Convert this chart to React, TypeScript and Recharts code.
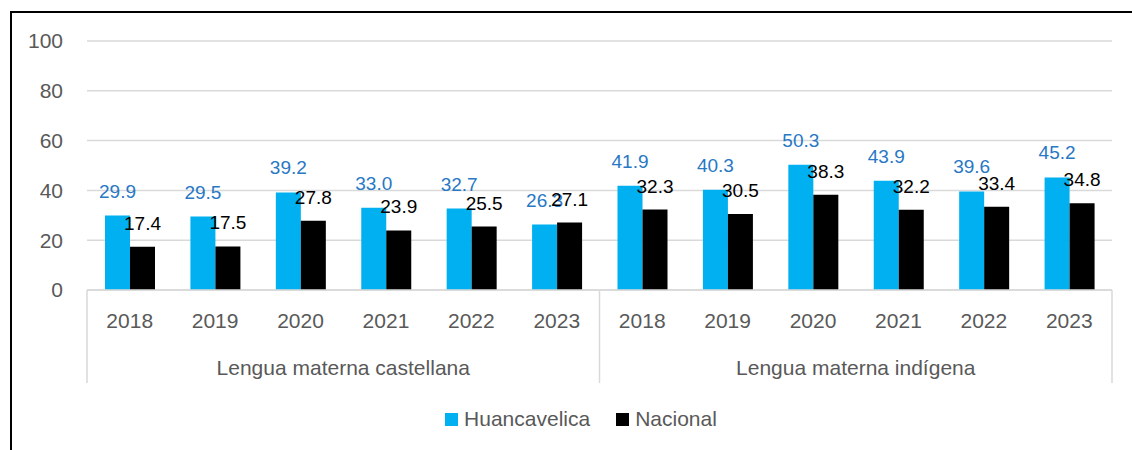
import React from 'react';
import { BarChart, Bar, XAxis, YAxis, CartesianGrid, Legend, LabelList } from 'recharts';

const years = ['2018', '2019', '2020', '2021', '2022', '2023'];
const groups = ['Lengua materna castellana', 'Lengua materna indígena'];
const huancavelica = [29.9, 29.5, 39.2, 33.0, 32.7, 26.3, 41.9, 40.3, 50.3, 43.9, 39.6, 45.2];
const nacional = [17.4, 17.5, 27.8, 23.9, 25.5, 27.1, 32.3, 30.5, 38.3, 32.2, 33.4, 34.8];
const yTicks = [0, 20, 40, 60, 80, 100];

const data = huancavelica.map((h, i) => ({
  idx: i,
  year: years[i % years.length],
  group: groups[Math.floor(i / years.length)],
  huancavelica: h,
  nacional: nacional[i],
}));

const W = 1132;
const H = 450;
const FONT = '"Liberation Sans", Arial, sans-serif';
const GREY = '#595959';
const GRID = '#d9d9d9';
const BLUE = '#00B0F0';
const LABEL_BLUE = '#2878C4';

const margin = { top: 41, right: 20, left: 0, bottom: 32 };
const Y_AXIS_W = 87;
const YEAR_AXIS_H = 48;
const GROUP_AXIS_H = 50;
const PLOT_W = W - margin.left - margin.right - Y_AXIS_W;
const HALF_GROUP = PLOT_W / groups.length / 2;

// second row of the x axis: group names plus the grey separators
const GroupTick = (props: any) => {
  const { x, y, payload, index } = props;
  const top = y - YEAR_AXIS_H;
  const bottom = y + 45;
  return (
    <g>
      {index === 0 && (
        <line x1={x - HALF_GROUP} x2={x - HALF_GROUP} y1={top} y2={bottom} stroke={GRID} strokeWidth={1.5} />
      )}
      <line x1={x + HALF_GROUP} x2={x + HALF_GROUP} y1={top} y2={bottom} stroke={GRID} strokeWidth={1.5} />
      <text x={x} y={y + 37} textAnchor="middle" fill={GREY} fontSize={21} fontFamily={FONT}>
        {payload.value}
      </text>
    </g>
  );
};

const LegendContent = () => {
  const items = [
    { name: 'Huancavelica', color: BLUE },
    { name: 'Nacional', color: '#000000' },
  ];
  return (
    <div style={{ width: W, height: 30, display: 'flex', justifyContent: 'center', alignItems: 'center', paddingLeft: 30, boxSizing: 'border-box' }}>
      {items.map((it, i) => (
        <div key={it.name} style={{ display: 'flex', alignItems: 'center', marginLeft: i > 0 ? 26 : 0 }}>
          <span style={{ width: 13, height: 13, background: it.color, display: 'inline-block', marginRight: 6 }} />
          <span style={{ fontSize: 21, color: GREY, fontFamily: FONT }}>{it.name}</span>
        </div>
      ))}
    </div>
  );
};

export default function App() {
  return (
    <div style={{ position: 'absolute', left: 0, top: 0, width: W, height: H, overflow: 'hidden', background: '#fff' }}>
      <div style={{ position: 'absolute', left: 10, top: 11, width: W + 100, height: H + 100, borderLeft: '2px solid #000', borderTop: '2px solid #000' }} />
      <div style={{ position: 'absolute', left: 0, top: 0 }}>
        <BarChart width={W} height={H} data={data} margin={margin} barGap={0} barSize={25} style={{ fontFamily: FONT }}>
          <CartesianGrid vertical={false} stroke={GRID} strokeWidth={1.5} />
          <XAxis
            xAxisId={0}
            dataKey="idx"
            tickFormatter={(v: number) => years[v % years.length]}
            height={YEAR_AXIS_H}
            tickLine={false}
            tickSize={0}
            tickMargin={23}
            axisLine={{ stroke: GRID, strokeWidth: 1.5 }}
            tick={{ fill: GREY, fontSize: 21 }}
            interval={0}
          />
          <XAxis
            xAxisId={1}
            dataKey="group"
            allowDuplicatedCategory={false}
            height={GROUP_AXIS_H}
            tickLine={false}
            tickSize={0}
            tickMargin={0}
            axisLine={false}
            tick={<GroupTick />}
            interval={0}
          />
          <YAxis
            width={Y_AXIS_W}
            domain={[0, 100]}
            ticks={yTicks}
            axisLine={false}
            tickLine={false}
            tickSize={0}
            tickMargin={24}
            tick={{ fill: GREY, fontSize: 21 }}
          />
          <Legend verticalAlign="bottom" content={<LegendContent />} wrapperStyle={{ left: 0, width: W, bottom: 16 }} />
          <Bar xAxisId={0} dataKey="huancavelica" name="Huancavelica" fill={BLUE} isAnimationActive={false}>
            <LabelList
              dataKey="huancavelica"
              position="top"
              offset={18}
              formatter={(v: any) => Number(v).toFixed(1)}
              style={{ fill: LABEL_BLUE, fontSize: 19 }}
            />
          </Bar>
          <Bar xAxisId={0} dataKey="nacional" name="Nacional" fill="#000000" isAnimationActive={false}>
            <LabelList
              dataKey="nacional"
              position="top"
              offset={17}
              formatter={(v: any) => Number(v).toFixed(1)}
              style={{ fill: '#000000', fontSize: 19 }}
            />
          </Bar>
        </BarChart>
      </div>
    </div>
  );
}
